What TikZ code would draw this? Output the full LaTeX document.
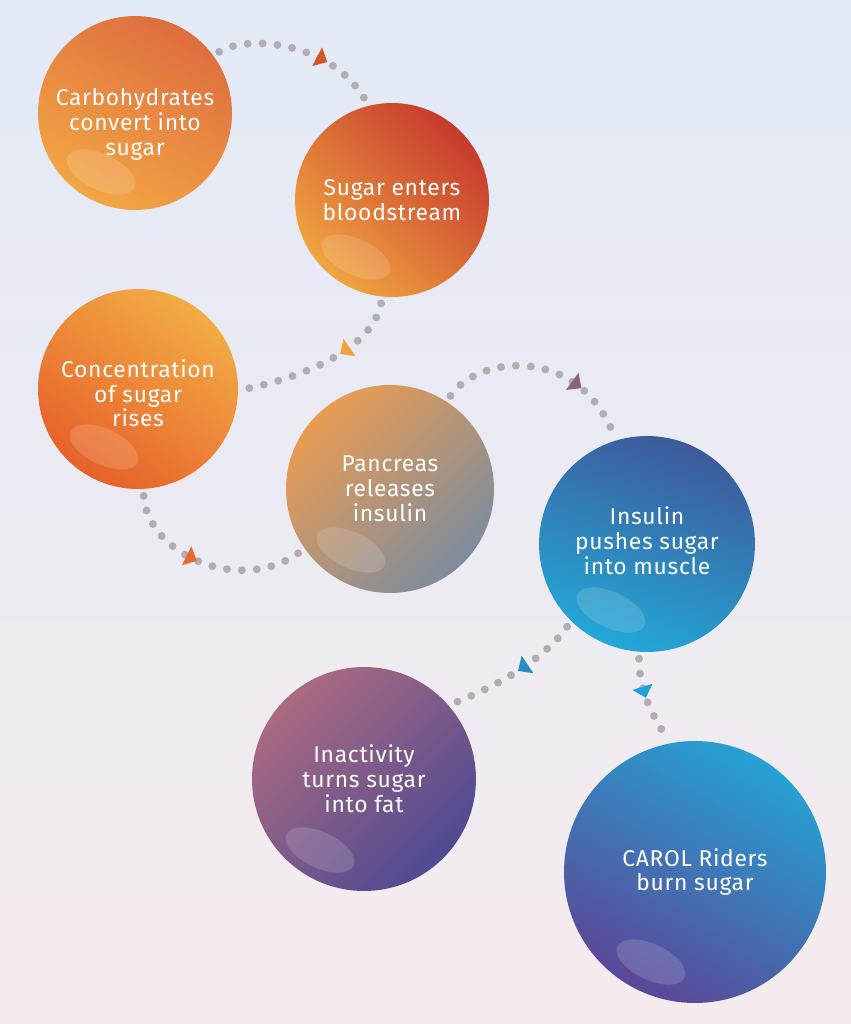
\documentclass[tikz,border=0pt]{standalone}
\usepackage{fontspec}
\setmainfont{Fira Sans}[LetterSpace=3]
\usetikzlibrary{decorations.markings}

\definecolor{bgtop}{HTML}{E2EAF6}
\definecolor{bgbot}{HTML}{F5EBEE}
\definecolor{dotgrey}{HTML}{B2ADB3}
% bubble colours
\definecolor{carbA}{HTML}{DF6E3F}
\definecolor{carbB}{HTML}{F2A644}
\definecolor{sugarA}{HTML}{C73A2E}
\definecolor{sugarB}{HTML}{F0A440}
\definecolor{concA}{HTML}{F2AC44}
\definecolor{concB}{HTML}{E7612A}
\definecolor{pancA}{HTML}{E99C52}
\definecolor{pancM}{HTML}{C98A72}
\definecolor{pancB}{HTML}{7E8C9E}
\definecolor{insA}{HTML}{3E5A9A}
\definecolor{insB}{HTML}{23A8D7}
\definecolor{inacA}{HTML}{AB6A80}
\definecolor{inacM}{HTML}{64508F}
\definecolor{inacB}{HTML}{4E4A92}
\definecolor{carolA}{HTML}{25A2D3}
\definecolor{carolB}{HTML}{5B4797}
% arrow colours
\definecolor{tipA}{HTML}{D8522B}
\definecolor{tipB}{HTML}{F0A33F}
\definecolor{tipC}{HTML}{E86A2B}
\definecolor{tipD}{HTML}{8B6479}
\definecolor{tipE}{HTML}{2B8DC2}
\definecolor{tipF}{HTML}{1DA3D3}

\tikzset{
    bubble/.style={circle, minimum size=#1, inner sep=0pt, outer sep=4pt,
        text=white, align=center, font=\fontsize{13}{14.2}\selectfont},
    shine/.style={fill=white, fill opacity=0.15},
    link/.style 2 args={draw=dotgrey, line width=4.5pt, line cap=round,
        dash pattern=on 0pt off 8.5pt,
        postaction={decorate, decoration={markings, mark=at position #2 with
            {\fill[#1] (3.5pt,0pt) -- (-3pt,6pt) -- (-3pt,-6pt) -- cycle;}}}}
}

\begin{document}
\begin{tikzpicture}[x=0.02cm, y=-0.02cm]
    \shade[top color=bgtop, bottom color=bgbot] (0,0) rectangle (851,1024);

    \node[bubble=3.88cm, top color=carbA, bottom color=carbB, shading angle=-30]
        (carb) at (135,113) {\rule{0pt}{23pt}Carbohydrates\\convert into\\sugar};
    \node[bubble=3.88cm, top color=sugarA, bottom color=sugarB, shading angle=-45]
        (sugar) at (392,200) {Sugar enters\\bloodstream};
    \node[bubble=4.0cm, top color=concA, bottom color=concB, shading angle=-35]
        (conc) at (138,389) {\rule{0pt}{15pt}Concentration\\of sugar\\rises};
    \node[bubble=4.16cm, top color=pancA, middle color=pancM, bottom color=pancB, shading angle=45]
        (pancreas) at (390,489) {Pancreas\\releases\\insulin};
    \node[bubble=4.32cm, top color=insA, bottom color=insB, shading angle=-20]
        (insulin) at (647,544) {Insulin\\pushes sugar\\into muscle\rule[-3.4pt]{0pt}{0pt}};
    \node[bubble=4.48cm, top color=inacA, middle color=inacM, bottom color=inacB, shading angle=45]
        (inactivity) at (364,779) {Inactivity\\turns sugar\\into fat};
    \node[bubble=5.24cm, top color=carolA, bottom color=carolB, shading angle=-30]
        (carol) at (695,872) {CAROL Riders\\burn sugar};

    % glossy spots
    \foreach \p in {(101,172),(356,257),(104,447),(351,550),(611,610),(320,850),(651,962)}
        \fill[shine, rotate around={-25:\p}] \p ellipse [x radius=37, y radius=18];

    % dotted links
    \draw[link={tipA}{0.64}] (carb.36) .. controls (245,35) and (330,40) .. (sugar.105);
    \draw[link={tipB}{0.36}] (sugar.264) .. controls (372,350) and (300,378) .. (conc.0);
    \draw[link={tipC}{0.42}] (conc.273) .. controls (148,555) and (240,595) .. (pancreas.215);
    \draw[link={tipD}{0.69}] (pancreas.57) .. controls (478,355) and (578,345) .. (insulin.107);
    \draw[link={tipE}{0.44}] (insulin.226) .. controls (545,658) and (500,685) .. (inactivity.40);
    \draw[link={tipF}{0.40}] (insulin.266) .. controls (639,690) and (652,715) .. (carol.102);
\end{tikzpicture}
\end{document}
